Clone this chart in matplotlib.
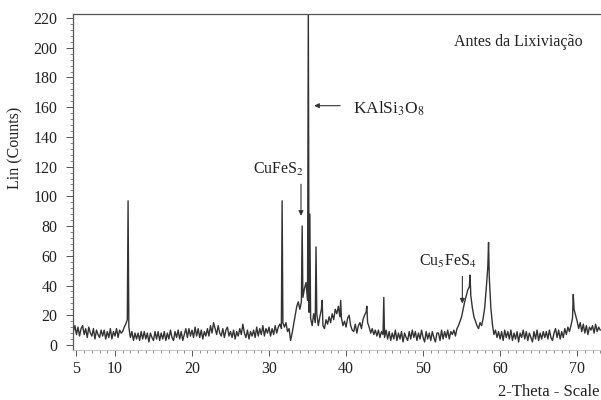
import numpy as np
import matplotlib
matplotlib.use("Agg")
import matplotlib.pyplot as plt
from matplotlib.ticker import MultipleLocator, FixedLocator

plt.rcParams['font.family'] = ['Liberation Serif', 'DejaVu Serif']
plt.rcParams['mathtext.fontset'] = 'stix'

# Background (noisy) intensity read on a 0.2 deg grid starting at 4.6 deg
baseline_start = 4.6
baseline_step = 0.2
baseline_counts = [
    9, 13,
    7, 12, 6, 11, 13,   # 5
    7, 11, 5, 12, 8,    # 6
    6, 11, 4, 10, 7,    # 7
    5, 10, 6, 10, 4,    # 8
    9, 5, 11, 4, 9,     # 9
    6, 11, 5, 10, 8,    # 10
    9, 12, 14, 17, 12,  # 11
    5, 9, 3, 8, 4,      # 12
    8, 3, 9, 4, 9,      # 13
    4, 8, 2, 8, 5,      # 14
    3, 9, 4, 9, 3,      # 15
    8, 4, 9, 3, 8,      # 16
    4, 10, 5, 3, 9,     # 17
    5, 10, 4, 9, 3,     # 18
    7, 11, 5, 11, 6,    # 19
    10, 5, 12, 6, 11,   # 20
    5, 10, 4, 9, 6,     # 21
    11, 6, 13, 8, 15,   # 22
    11, 7, 13, 8, 6,    # 23
    11, 5, 10, 12, 6,   # 24
    9, 5, 10, 4, 9,     # 25
    6, 11, 7, 14, 8,    # 26
    5, 10, 4, 9, 6,     # 27
    10, 5, 12, 6, 11,   # 28
    7, 13, 6, 11, 8,    # 29
    12, 6, 11, 7, 13,   # 30
    8, 12, 14, 11, 15,  # 31
    12, 15, 9, 11, 3,   # 32
    8, 14, 20, 26, 29,  # 33
    24, 29, 32, 38, 42, # 34
    30, 22, 18, 13, 21, # 35
    15, 21, 13, 19, 24, # 36
    13, 11, 17, 14, 19, # 37
    15, 21, 17, 24, 21, # 38
    26, 19, 18, 13, 16, # 39
    12, 18, 20, 13, 10, # 40
    9, 14, 8, 13, 15,   # 41
    11, 17, 20, 22, 15, # 42
    12, 8, 11, 7, 10,   # 43
    6, 10, 5, 9, 7,     # 44
    5, 10, 4, 9, 3,     # 45
    8, 4, 10, 3, 8,     # 46
    4, 9, 2, 8, 5,      # 47
    3, 9, 4, 10, 5,     # 48
    9, 3, 8, 4, 10,     # 49
    5, 2, 9, 4, 8,      # 50
    3, 9, 5, 2, 8,      # 51
    8, 3, 10, 4, 9,     # 52
    5, 10, 4, 9, 7,     # 53
    10, 6, 11, 13, 16,  # 54
    19, 24, 29, 33, 37, # 55
    39, 33, 25, 19, 16, # 56
    13, 11, 15, 13, 18, # 57
    25, 38, 52, 45, 25, # 58
    14, 7, 10, 5, 9,    # 59
    4, 9, 3, 10, 5,     # 60
    9, 4, 10, 3, 8,     # 61
    4, 9, 2, 8, 5,      # 62
    10, 4, 9, 3, 8,     # 63
    5, 2, 9, 4, 10,     # 64
    3, 8, 4, 9, 5,      # 65
    9, 4, 10, 5, 3,     # 66
    8, 11, 5, 10, 4,    # 67
    9, 5, 11, 7, 12,    # 68
    9, 13, 18, 24, 20,  # 69
    16, 11, 15, 9, 14,  # 70
    8, 13, 7, 12, 10,   # 71
    13, 8, 14, 9, 12,   # 72
    10,                 # 73
]

# Sharp reflections
peak_two_theta = [11.7, 31.7, 34.3, 35.1, 35.3, 36.1, 36.9, 39.3, 42.7, 44.9, 56.1, 58.5, 69.5]
peak_counts    = [97,   97,   80,   228,  88,   66,   30,   30,   26,   32,   47,   69,   34]

# Annotations
title_text = "Antes da Lixivia\u00e7\u00e3o"
phase_labels = ["KAlSi$_3$O$_8$", "CuFeS$_2$", "Cu$_5$FeS$_4$"]
x_ticks = [5, 10, 20, 30, 40, 50, 60, 70]
y_ticks = list(range(0, 221, 20))

base_x = np.round(baseline_start + baseline_step * np.arange(len(baseline_counts)), 2)
all_x = np.concatenate([base_x, np.array(peak_two_theta)])
all_y = np.concatenate([np.array(baseline_counts, float), np.array(peak_counts, float)])
order = np.argsort(all_x, kind="stable")
all_x = all_x[order]
all_y = all_y[order]

fig = plt.figure(figsize=(6.01, 4.0), dpi=100)
ax = fig.add_axes([73 / 601, 50 / 400, 1 - 73 / 601, 336 / 400])
ax.plot(all_x, all_y, color="#333333", lw=1.0)

ax.set_xlim(4.55, 73.1)
ax.set_ylim(-3.4, 222.7)

ax.spines['right'].set_visible(False)
for s in ['left', 'top']:
    ax.spines[s].set_color("#555555")
    ax.spines[s].set_linewidth(0.9)
ax.spines['bottom'].set_color("#bbbbbb")
ax.spines['bottom'].set_linewidth(0.6)

ax.xaxis.set_major_locator(FixedLocator(x_ticks))
ax.xaxis.set_minor_locator(MultipleLocator(1))
ax.yaxis.set_major_locator(FixedLocator(y_ticks))
ax.yaxis.set_minor_locator(MultipleLocator(4))
ax.tick_params(axis='both', which='major', labelsize=11.5, colors="#555555", labelcolor="#222222")
ax.tick_params(axis='x', which='major', length=4, width=0.7, pad=4)
ax.tick_params(axis='x', which='minor', length=2, width=0.6, colors="#777777")
ax.tick_params(axis='y', which='major', length=5, width=0.7, pad=6)
ax.tick_params(axis='y', which='minor', length=2.5, width=0.6, colors="#777777")

fig.text(0.026, 0.63, "Lin (Counts)", rotation=90, ha='center', va='center',
         fontsize=11.5, color="#222222")
fig.text(0.998, 0.02, "2-Theta - Scale", ha='right', va='center',
         fontsize=12, color="#222222")

ax.text(62.4, 204, title_text, ha='center', va='center', fontsize=11.5, color="#222222")

ax.annotate("", xy=(35.5, 161), xytext=(39.6, 161),
            arrowprops=dict(arrowstyle="-|>", color="#333333", lw=0.8, mutation_scale=7))
ax.text(40.9, 159, phase_labels[0], ha='left', va='center', fontsize=12.5, color="#222222")

ax.annotate("", xy=(34.15, 85), xytext=(34.15, 110),
            arrowprops=dict(arrowstyle="-|>", color="#333333", lw=0.8, mutation_scale=7))
ax.text(31.3, 118, phase_labels[1], ha='center', va='center', fontsize=11.5, color="#222222")

ax.annotate("", xy=(55.1, 26), xytext=(55.1, 48),
            arrowprops=dict(arrowstyle="-|>", color="#333333", lw=0.8, mutation_scale=7))
ax.text(53.2, 56, phase_labels[2], ha='center', va='center', fontsize=11.5, color="#222222")

fig.savefig("out.png", dpi=100)
